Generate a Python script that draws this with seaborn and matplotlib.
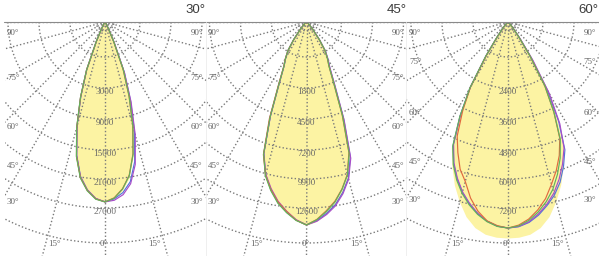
import numpy as np
import matplotlib
matplotlib.use("Agg")
import matplotlib.pyplot as plt
import seaborn as sns
from matplotlib.lines import Line2D
from matplotlib.transforms import Bbox, TransformedBbox

# polar angles, 0 = straight down, negative = left half
ANGLES_DEG = [-90, -60, -45, -40, -36, -33, -30, -27, -24, -21, -18, -15, -12, -9, -6, -3, 0,
              3, 6, 9, 12, 15, 18, 21, 24, 27, 30, 33, 36, 40, 45, 60, 90]

# 30 deg beam (cd)
P1_FILL = [0, 15, 40, 70, 140, 210, 430, 1100, 3100, 7400, 11400, 15700, 19700, 22600, 24300, 25400, 25700,
           25400, 24300, 22600, 19700, 15700, 11400, 7400, 3100, 1100, 430, 210, 140, 70, 40, 15, 0]
P1_GREEN = [0, 15, 40, 70, 140, 210, 430, 1100, 3090, 7380, 11350, 15650, 19650, 22550, 24250, 25350, 25700,
            25200, 24000, 22200, 19300, 15400, 11150, 7250, 3020, 1070, 420, 200, 135, 70, 40, 15, 0]
P1_RED = [0, 15, 40, 70, 140, 210, 430, 1090, 3080, 7350, 11300, 15600, 19600, 22500, 24200, 25300, 25700,
          25150, 23950, 22150, 19250, 15350, 11100, 7200, 3000, 1060, 420, 200, 135, 70, 40, 15, 0]
P1_PURPLE = [0, 15, 40, 70, 138, 205, 425, 1080, 3050, 7300, 11250, 15500, 19500, 22400, 24150, 25250, 25700,
             25500, 24800, 23400, 20800, 16700, 12100, 7800, 3300, 1180, 450, 220, 145, 72, 41, 15, 0]
P1_BLUE = [0, 15, 40, 70, 138, 205, 425, 1080, 3040, 7280, 11200, 15450, 19450, 22350, 24100, 25250, 25700,
           25300, 24500, 23100, 20400, 16300, 11800, 7650, 3220, 1150, 440, 215, 142, 71, 40, 15, 0]

# 45 deg beam (cd)
P2_FILL = [0, 70, 270, 670, 1470, 2270, 2800, 3330, 4530, 6800, 9330, 10670, 11530, 12270, 12800, 13270, 13600,
           13350, 12900, 12400, 11650, 10750, 9400, 6850, 4560, 3350, 2810, 2280, 1470, 670, 270, 70, 0]
P2_GREEN = [0, 70, 270, 660, 1460, 2260, 2790, 3320, 4500, 6750, 9250, 10600, 11480, 12230, 12780, 13250, 13530,
            13200, 12700, 12150, 11400, 10550, 9200, 6700, 4480, 3300, 2780, 2250, 1450, 660, 270, 70, 0]
P2_RED = [0, 70, 270, 670, 1470, 2280, 2820, 3360, 4600, 6900, 9300, 10560, 11420, 12150, 12700, 13230, 13530,
          13180, 12650, 12100, 11380, 10520, 9150, 6650, 4450, 3290, 2770, 2240, 1450, 660, 270, 70, 0]
P2_PURPLE = [0, 70, 270, 660, 1450, 2250, 2780, 3300, 4450, 6700, 9200, 10500, 11350, 12100, 12680, 13200, 13530,
             13300, 12900, 12400, 11700, 10850, 9550, 7000, 4700, 3450, 2880, 2330, 1500, 680, 275, 70, 0]
P2_BLUE = [0, 70, 270, 660, 1455, 2255, 2785, 3310, 4480, 6720, 9220, 10550, 11420, 12180, 12730, 13220, 13530,
           13260, 12820, 12320, 11620, 10780, 9450, 6900, 4620, 3400, 2850, 2300, 1480, 670, 272, 70, 0]

# 60 deg beam (cd)
P3_FILL = [0, 40, 110, 300, 760, 1600, 2970, 4110, 5260, 5910, 6550, 7100, 7600, 7950, 8150, 8230, 8250,
           8230, 8150, 7950, 7600, 7100, 6550, 5910, 5260, 4110, 2970, 1600, 760, 300, 110, 40, 0]
P3_GREEN = [0, 35, 100, 280, 700, 1560, 2900, 4050, 5180, 5820, 6330, 6760, 7120, 7420, 7650, 7800, 7850,
            7780, 7600, 7330, 7000, 6600, 6100, 5550, 4900, 3850, 2800, 1500, 680, 270, 100, 35, 0]
P3_RED = [0, 35, 100, 270, 680, 1500, 2860, 3810, 4760, 5330, 5900, 6290, 6860, 7300, 7620, 7770, 7850,
          7750, 7550, 7250, 6880, 6400, 5950, 5450, 4850, 3850, 2800, 1500, 680, 270, 100, 35, 0]
P3_PURPLE = [0, 35, 100, 275, 690, 1540, 2870, 4000, 5100, 5750, 6250, 6700, 7060, 7380, 7630, 7790, 7850,
             7800, 7650, 7400, 7100, 6750, 6300, 5800, 5250, 4350, 3150, 1750, 800, 300, 110, 40, 0]
P3_BLUE = [0, 35, 100, 275, 690, 1540, 2880, 4020, 5130, 5780, 6280, 6720, 7080, 7390, 7630, 7790, 7850,
           7810, 7680, 7450, 7150, 6830, 6420, 5900, 5330, 4250, 3000, 1620, 720, 285, 105, 38, 0]

TITLES = ["30°", "45°", "60°"]
P1_RING_LABELS = ["3000", "9000", "15000", "21000", "27000"]
P2_RING_LABELS = ["1800", "4500", "7200", "9900", "12600"]
P3_RING_LABELS = ["2400", "3600", "4800", "6000", "7200"]
SIDE_ANGLE_LABELS = ["90°", "75°", "60°", "45°", "30°"]
BOTTOM_ANGLE_LABELS = ["15°", "0°", "15°"]

# layout (pixels)
W, H = 599, 256
ORIGIN_Y = 22
CENTERS_X = [105, 306.5, 508]
EDGES_X = [4.5, 205.5, 406.5, 607.5]
CD_PER_PX = [142.86, 66.67, 38.1]
RING_PX = [9, 35, 66, 97, 128, 157, 186, 221]
SIDE_ROWS = [[33, 78, 127, 166, 202], [33, 78, 127, 166, 202], [33, 62, 113, 162, 200]]
R_AX = 262

FILL_COLOR = "#fcf3a3"
CURVE_COLORS = {"green": "#62b25c", "red": "#e06a3e", "purple": "#a84ec8", "blue": "#5277d6"}
DRAW_ORDER = ["blue", "purple", "red", "green"]
GRID_COLOR = "#7a7a7a"
LABEL_COLOR = "#666666"

panels = [
    (P1_FILL, {"green": P1_GREEN, "red": P1_RED, "blue": P1_BLUE, "purple": P1_PURPLE}, P1_RING_LABELS),
    (P2_FILL, {"green": P2_GREEN, "red": P2_RED, "blue": P2_BLUE, "purple": P2_PURPLE}, P2_RING_LABELS),
    (P3_FILL, {"green": P3_GREEN, "red": P3_RED, "blue": P3_BLUE, "purple": P3_PURPLE}, P3_RING_LABELS),
]

sns.set_theme(style="white")
plt.rcParams["font.family"] = ["Liberation Sans", "DejaVu Sans"]

fig = plt.figure(figsize=(W / 100, H / 100), dpi=100)
fig.patch.set_facecolor("white")


def fpos(x, y):
    return x / W, 1 - y / H


theta = np.deg2rad(ANGLES_DEG)
arc = np.deg2rad(np.linspace(-90, 90, 361))

for i, (fill, curves, ring_labels) in enumerate(panels):
    cx = CENTERS_X[i]
    k = CD_PER_PX[i]
    x_left = EDGES_X[i]
    x_right = min(EDGES_X[i + 1], W - 0.5)  # keep the last panel's labels inside the image
    ax = fig.add_axes([(cx - R_AX) / W, (H - ORIGIN_Y - R_AX) / H, 2 * R_AX / W, 2 * R_AX / H],
                      projection="polar")
    ax.set_theta_zero_location("S")
    ax.set_ylim(0, R_AX * k)
    ax.set_axis_off()

    ax.fill(theta, fill, color=FILL_COLOR, lw=0, zorder=1)

    # dotted polar grid
    for a in range(-90, 91, 15):
        ax.plot([np.deg2rad(a)] * 2, [0, R_AX * k], color=GRID_COLOR, lw=1.0,
                linestyle=(0, (1, 1.6)), zorder=2)
    for rp in RING_PX:
        ax.plot(arc, np.full_like(arc, rp * k), color=GRID_COLOR, lw=1.0,
                linestyle=(0, (1, 1.6)), zorder=2)

    for name in DRAW_ORDER:
        sns.lineplot(x=theta, y=curves[name], ax=ax, sort=False, estimator=None,
                     color=CURVE_COLORS[name], lw=0.85, zorder=3)
    ax.set_axis_off()

    clip = TransformedBbox(Bbox.from_extents(EDGES_X[i] / W, 0, EDGES_X[i + 1] / W, (H - ORIGIN_Y) / H),
                           fig.transFigure)
    for art in list(ax.lines) + list(ax.patches):
        art.set_clip_box(clip)

    # radial value labels
    for j, lab in enumerate(ring_labels):
        fig.text(*fpos(cx, ORIGIN_Y + RING_PX[j + 2] + 4), lab, ha="center", va="center",
                 fontsize=6.6, family="Liberation Serif", color=LABEL_COLOR)

    # angle labels along the panel edges
    for lab, y in zip(SIDE_ANGLE_LABELS, SIDE_ROWS[i]):
        fig.text(*fpos(x_left + 2.5, y), lab, ha="left", va="center",
                 fontsize=6.5, family="Liberation Serif", color=LABEL_COLOR)
        fig.text(*fpos(x_right - 2.5, y), lab, ha="right", va="center",
                 fontsize=6.5, family="Liberation Serif", color=LABEL_COLOR)
    for lab, dx in zip(BOTTOM_ANGLE_LABELS, [-50, -1, 50]):
        fig.text(*fpos(cx + dx, 244), lab, ha="center", va="center",
                 fontsize=6.5, family="Liberation Serif", color=LABEL_COLOR)

    fig.text(*fpos(x_right, 10), TITLES[i], ha="right", va="center",
             fontsize=9.5, color="#3c3c3c")

# frame: top rule and faint panel dividers
fig.add_artist(Line2D([4 / W, 1], [1 - ORIGIN_Y / H] * 2, color="#8a8a8a", lw=0.8))
for xe in EDGES_X[1:3]:
    fig.add_artist(Line2D([xe / W] * 2, [0, 1 - ORIGIN_Y / H], color="#ececec", lw=0.6))

fig.savefig("out.png", dpi=100, facecolor="white")
